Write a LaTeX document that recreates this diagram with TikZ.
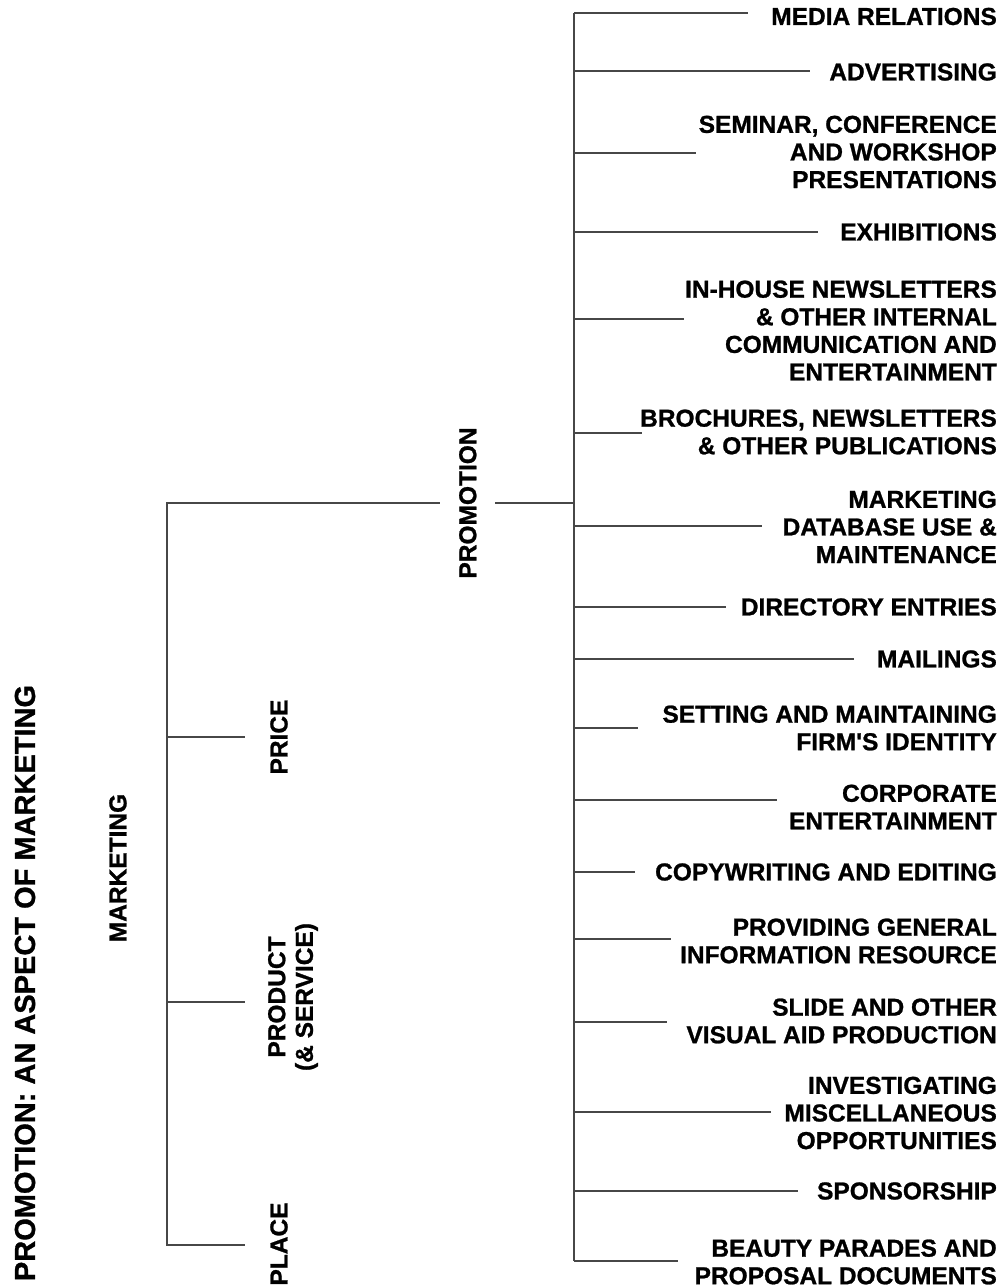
\documentclass[tikz,border=0pt]{standalone}
\usepackage{fontspec}
\newfontfamily\lab{Liberation Sans}[BoldFeatures={FakeBold=1}]
\begin{document}
\begin{tikzpicture}[x=1pt,y=-1pt,
  conn/.style={line width=1.2pt, draw=black!72},
  item/.style={anchor=east, align=right, inner sep=0pt,
    font=\lab\bfseries\fontsize{24.5}{27.6}\selectfont},
  side/.style={rotate=90, align=center, inner sep=0pt,
    font=\lab\bfseries\fontsize{24.5}{27.6}\selectfont},
  titlestyle/.style={rotate=90, inner sep=0pt,
    font=\lab\bfseries\fontsize{29}{32}\selectfont}]
\useasboundingbox (0,0) rectangle (1005,1288);

% title and left tree
\node[titlestyle] (title) at (25,983) {PROMOTION: AN ASPECT OF MARKETING};
\node[side] (marketing) at (118,868) {MARKETING};
\node[side, inner xsep=0pt, inner ysep=19pt, text height=17.5pt, text depth=0pt] (promo) at (467.5,503) {PROMOTION};
\node[side] (price) at (279,737) {PRICE};
\node[side] (product) at (293,997) {PRODUCT\\(\& SERVICE)};
\node[side] (place) at (279,1244) {PLACE};

\coordinate (lt) at (167,503);
\coordinate (lb) at (167,1245);
\coordinate (lprice) at (167,737);
\coordinate (lproduct) at (167,1002);
\coordinate (eprice) at (245,737);
\coordinate (eproduct) at (245,1002);
\coordinate (eplace) at (245,1245);
\draw[conn] (promo.north) -- (lt) -- (lb) -- (eplace);
\draw[conn] (lprice) -- (eprice);
\draw[conn] (lproduct) -- (eproduct);

% right spine
\coordinate (rt) at (574,13);
\coordinate (rb) at (574,1261);
\coordinate (rm) at (574,503);
\draw[conn] (rt) -- (rb);
\draw[conn] (promo.south) -- (rm);

\foreach \i/\ly/\lx/\ty/\txt in {
  1/13/748/16.5/{MEDIA RELATIONS},
  2/71/810/72/{ADVERTISING},
  3/153/696/152/{SEMINAR, CONFERENCE\\AND WORKSHOP\\PRESENTATIONS},
  4/232/818/232/{EXHIBITIONS},
  5/319/684/330.5/{IN-HOUSE NEWSLETTERS\\\& OTHER INTERNAL\\COMMUNICATION AND\\ENTERTAINMENT},
  6/433/642/432/{BROCHURES, NEWSLETTERS\\\& OTHER PUBLICATIONS},
  7/526/762/527/{MARKETING\\DATABASE USE \&\\MAINTENANCE},
  8/607/726/607/{DIRECTORY ENTRIES},
  9/659/854/659/{MAILINGS},
  10/728/638/728/{SETTING AND MAINTAINING\\FIRM'S IDENTITY},
  11/800/777/807/{CORPORATE\\ENTERTAINMENT},
  12/872/635/872/{COPYWRITING AND EDITING},
  13/939/671/941/{PROVIDING GENERAL\\INFORMATION RESOURCE},
  14/1022/667/1021/{SLIDE AND OTHER\\VISUAL AID PRODUCTION},
  15/1112/771/1113/{INVESTIGATING\\MISCELLANEOUS\\OPPORTUNITIES},
  16/1191/798/1191/{SPONSORSHIP},
  17/1261/678/1262/{BEAUTY PARADES AND\\PROPOSAL DOCUMENTS}} {
  \node[item] (t\i) at (997,\ty) {\txt};
  \coordinate (s\i) at (574,\ly);
  \coordinate (e\i) at (\lx,\ly);
  \draw[conn] (s\i) -- (e\i);
}
\end{tikzpicture}
\end{document}
